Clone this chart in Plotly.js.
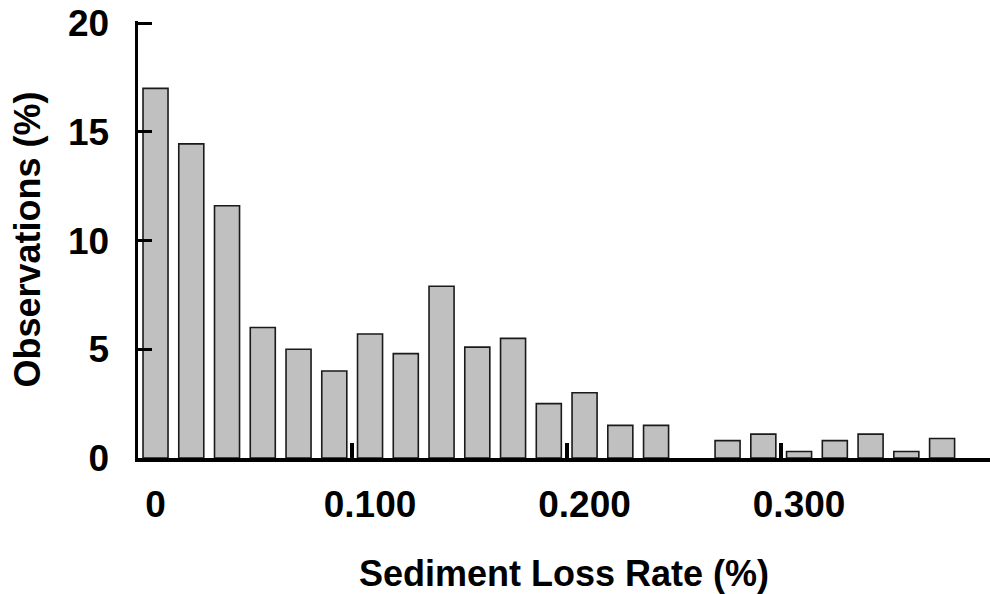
<!DOCTYPE html>
<html>
<head>
<meta charset="utf-8">
<script src="https://cdn.plot.ly/plotly-3.0.1.min.js"></script>
<style>
  html, body { margin: 0; padding: 0; background: #fff; }
  #chart { width: 990px; height: 594px; }
</style>
</head>
<body>
<div id="chart"></div>
<script>
// Histogram bins (slot index along the sediment loss rate axis)
const binSlots = [0, 1, 2, 3, 4, 5, 6, 7, 8, 9, 10, 11, 12, 13, 14, 15, 16, 17, 18, 19, 20, 21, 22];
// Observations (%) per bin
const observations = [17.0, 14.45, 11.6, 6.0, 5.0, 4.0, 5.7, 4.8, 7.9, 5.1, 5.5, 2.5, 3.0, 1.5, 1.5, null, 0.8, 1.1, 0.3, 0.8, 1.1, 0.3, 0.9];
// X tick labels
const xLabelSlots = [0, 6, 12, 18];
const xLabelText = ["0", "0.100", "0.200", "0.300"];
const xTickMarkSlots = [5.5, 11.5, 17.5];
// Y ticks
const yTickVals = [0, 5, 10, 15, 20];

const fontFamily = "Liberation Sans, Arial, sans-serif";

const trace = {
  type: "bar",
  x: binSlots,
  y: observations,
  marker: { color: "#c0c0c0", line: { color: "#1a1a1a", width: 1.6 } },
  hoverinfo: "y"
};

const layout = {
  width: 990,
  height: 594,
  margin: { l: 138, r: 0, t: 21, b: 136, pad: 0 },
  paper_bgcolor: "#ffffff",
  plot_bgcolor: "#ffffff",
  showlegend: false,
  bargap: 0.3,
  font: { family: fontFamily, color: "#000", size: 36, weight: 700 },
  xaxis: {
    range: [-0.49, 23.34],
    showgrid: false,
    zeroline: false,
    showline: true,
    linecolor: "#000",
    linewidth: 4,
    tickmode: "array",
    tickvals: xLabelSlots,
    ticktext: xLabelText,
    ticks: "",
    ticklabelstandoff: 11,
    tickfont: { family: fontFamily, size: 37, color: "#000", weight: 700 },
    minor: {
      tickmode: "array",
      tickvals: xTickMarkSlots,
      ticks: "inside",
      ticklen: 15,
      tickwidth: 4,
      tickcolor: "#000",
      showgrid: false
    },
    title: {
      text: "Sediment Loss Rate (%)",
      font: { family: fontFamily, size: 36, color: "#000", weight: 700 },
      standoff: 46
    },
    fixedrange: true
  },
  yaxis: {
    range: [0, 20.1],
    showgrid: false,
    zeroline: false,
    showline: true,
    linecolor: "#000",
    linewidth: 3.5,
    tickmode: "array",
    tickvals: yTickVals,
    ticks: "inside",
    ticklen: 14,
    tickwidth: 3,
    tickcolor: "#000",
    ticklabelstandoff: 18,
    tickfont: { family: fontFamily, size: 37, color: "#000", weight: 700 },
    title: {
      text: "Observations (%)",
      font: { family: fontFamily, size: 36, color: "#000", weight: 700 },
      standoff: 17
    },
    fixedrange: true
  }
};

Plotly.newPlot("chart", [trace], layout, { displayModeBar: false, staticPlot: true });
</script>
</body>
</html>
